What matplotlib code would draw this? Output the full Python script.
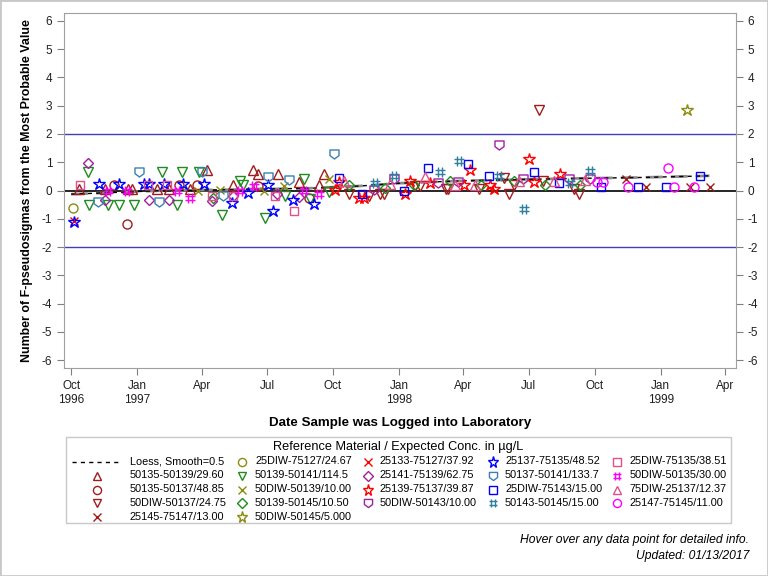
import numpy as np
import pandas as pd
import matplotlib
matplotlib.use("Agg")
import matplotlib.pyplot as plt
import matplotlib.dates as mdates
from matplotlib.path import Path
from matplotlib.lines import Line2D
from matplotlib.patches import Rectangle
from matplotlib.ticker import FuncFormatter, FixedLocator

plt.rcParams['font.family'] = ['Liberation Sans', 'DejaVu Sans']
plt.rcParams['axes.unicode_minus'] = False

# ---- data ----
loess_dates = ["1996-10-01", "1996-11-30", "1997-02-08", "1997-05-11", "1997-08-30", "1997-11-08",
               "1998-01-03", "1998-03-28", "1998-06-20", "1998-09-11", "1998-12-03", "1999-03-10"]
loess_vals = [-0.13, -0.07, 0.0, 0.03, 0.08, 0.16, 0.26, 0.34, 0.39, 0.43, 0.46, 0.52]

s01_dates = ["1996-10-12", "1996-11-17", "1996-12-19", "1996-12-25", "1997-01-28", "1997-02-14", "1997-03-15",
             "1997-04-09", "1997-05-15", "1997-06-11", "1997-06-19", "1997-07-17", "1997-08-14", "1997-09-11",
             "1997-09-18"]
s01_vals = [0.06, 0.07, 0.06, 0.06, 0.06, 0.06, 0.06, 0.74, 0.21, 0.74, 0.59, 0.60, 0.31, 0.21, 0.60]

s02_dates = ["1996-11-30", "1996-12-18", "1997-02-28", "1997-03-26", "1997-06-19", "1997-08-28"]
s02_vals = [0.19, -1.17, 0.18, 0.18, 0.15, -0.26]

s03_dates = ["1997-10-23", "1997-11-20", "1997-12-06", "1997-12-11", "1998-01-23", "1998-01-30", "1998-03-07",
             "1998-03-11", "1998-04-22", "1998-05-28", "1998-06-04", "1998-06-10", "1998-07-16", "1998-07-21",
             "1998-09-02", "1998-09-09"]
s03_vals = [-0.14, -0.20, -0.14, -0.14, 0.15, 0.15, 0.04, 0.04, 0.04, 0.45, -0.12, 0.18, 2.84, 0.33, 0.04, -0.12]

s04_dates = ["1998-11-13", "1998-12-11", "1999-02-11", "1999-03-11"]
s04_vals = [0.41, 0.13, 0.13, 0.13]

s05_dates = ["1996-10-03"]
s05_vals = [-0.61]

s06_dates = ["1996-10-25", "1996-10-26", "1996-11-22", "1996-12-06", "1996-12-28", "1997-02-04", "1997-02-26",
             "1997-03-05", "1997-03-28", "1997-04-29", "1997-05-24", "1997-05-29", "1997-06-28", "1997-07-26",
             "1997-08-21", "1997-08-30", "1997-09-25"]
s06_vals = [0.65, -0.50, -0.53, -0.53, -0.53, 0.65, -0.53, 0.65, 0.65, -0.88, 0.33, 0.18, -0.99, -0.18,
            0.41, -0.29, -0.05]

s07_dates = ["1997-03-27", "1997-04-27", "1997-06-27", "1997-07-25", "1997-09-25"]
s07_vals = [0.0, 0.01, -0.02, 0.15, 0.41]

s08_dates = ["1997-04-17", "1997-10-24", "1997-12-12", "1998-01-22", "1998-03-13", "1998-04-25", "1998-06-11",
             "1998-07-23", "1998-09-11"]
s08_vals = [-0.28, 0.21, 0.09, 0.19, 0.35, 0.21, 0.35, 0.19, 0.21]

s09_dates = ["1999-02-07"]
s09_vals = [2.84]

s10_dates = ["1996-10-05"]
s10_vals = [-1.08]

s11_dates = ["1996-10-25", "1996-11-17", "1997-01-17", "1997-02-14", "1997-04-16", "1997-05-14", "1997-07-15",
             "1997-08-14"]
s11_vals = [0.98, -0.35, -0.35, -0.35, -0.38, -0.18, -0.14, -0.24]

s12_dates = ["1997-10-04", "1997-10-10", "1997-11-06", "1997-11-13", "1998-01-09", "1998-01-16", "1998-02-13",
             "1998-04-02", "1998-04-10", "1998-05-08", "1998-05-14", "1998-07-01", "1998-07-09", "1998-08-14"]
s12_vals = [0.03, 0.29, -0.26, -0.26, -0.12, 0.33, 0.27, 0.18, 0.71, 0.21, 0.04, 1.10, 0.31, 0.57]

s13_dates = ["1997-11-27", "1997-12-25", "1998-02-25", "1998-03-25", "1998-05-20", "1998-06-23", "1998-08-26",
             "1998-09-24"]
s13_vals = [0.01, 0.41, 0.27, 0.29, 1.60, 0.42, 0.42, 0.39]

s14_dates = ["1996-10-05", "1996-11-09", "1996-12-06", "1997-01-10", "1997-01-17", "1997-02-08", "1997-03-06",
             "1997-04-04", "1997-05-13", "1997-06-04", "1997-07-03", "1997-07-09", "1997-08-07", "1997-09-05"]
s14_vals = [-1.12, 0.24, 0.24, 0.24, 0.24, 0.24, 0.24, 0.24, -0.44, -0.08, 0.21, -0.71, -0.32, -0.47]

s15_dates = ["1996-11-08", "1997-01-04", "1997-02-01", "1997-04-02", "1997-05-01", "1997-07-02", "1997-08-01",
             "1997-10-02"]
s15_vals = [-0.40, 0.66, -0.40, 0.65, -0.18, 0.48, 0.36, 1.30]

s16_dates = ["1997-10-09", "1997-11-11", "1998-01-08", "1998-02-11", "1998-04-08", "1998-05-06", "1998-07-08",
             "1998-08-12", "1998-10-10", "1998-12-01", "1999-01-08", "1999-02-25"]
s16_vals = [0.45, -0.12, 0.0, 0.80, 0.94, 0.53, 0.66, 0.27, 0.13, 0.13, 0.13, 0.53]

s17_dates = ["1997-11-28", "1997-12-25", "1998-02-27", "1998-03-26", "1998-05-21", "1998-06-25", "1998-08-27",
             "1998-09-24"]
s17_vals = [0.27, 0.53, 0.66, 1.04, 0.51, -0.67, 0.27, 0.68]

s18_dates = ["1996-10-13", "1997-01-16", "1997-02-11", "1997-04-16", "1997-05-14", "1997-07-12", "1997-08-08"]
s18_vals = [0.21, 0.21, 0.21, -0.18, -0.20, -0.18, -0.71]

s19_dates = ["1996-11-22", "1996-12-18", "1997-02-25", "1997-03-15", "1997-05-24", "1997-06-13", "1997-08-21",
             "1997-09-12"]
s19_vals = [-0.01, -0.01, -0.01, -0.26, 0.0, 0.15, 0.0, -0.12]

s20_dates = ["1997-10-17", "1997-12-19", "1998-02-06", "1998-03-20", "1998-04-17", "1998-06-17", "1998-08-05",
             "1998-09-18"]
s20_vals = [0.35, 0.24, 0.48, 0.21, 0.21, 0.35, 0.35, 0.36]

s21_dates = ["1998-10-04", "1998-10-12", "1998-11-16", "1999-01-11", "1999-01-19", "1999-02-16"]
s21_vals = [0.29, 0.29, 0.13, 0.80, 0.13, 0.13]

labels = ["50135-50139/29.60", "50135-50137/48.85", "50DIW-50137/24.75", "25145-75147/13.00",
          "25DIW-75127/24.67", "50139-50141/114.5", "50DIW-50139/10.00", "50139-50145/10.50",
          "50DIW-50145/5.000", "25133-75127/37.92", "25141-75139/62.75", "25139-75137/39.87",
          "50DIW-50143/10.00", "25137-75135/48.52", "50137-50141/133.7", "25DIW-75143/15.00",
          "50143-50145/15.00", "25DIW-75135/38.51", "50DIW-50135/30.00", "75DIW-25137/12.37",
          "25147-75145/11.00"]

# ---- marker shapes ----
homeplate = Path([(-1, 1), (1, 1), (1, -0.25), (0, -1), (-1, -0.25), (-1, 1)],
                 [Path.MOVETO, Path.LINETO, Path.LINETO, Path.LINETO, Path.LINETO, Path.CLOSEPOLY])
hashmark = Path([(-0.4, -1), (-0.4, 1), (0.4, -1), (0.4, 1), (-1, -0.4), (1, -0.4), (-1, 0.4), (1, 0.4)],
                [Path.MOVETO, Path.LINETO] * 4)

DKRED = '#A01C1C'
OLIVE = '#8C8C10'
GREEN = '#1E8C1E'
RED = '#FF0000'
PURPLE = '#A020A0'
BLUE = '#0000FF'
STEEL = '#3A80B0'
TEAL = '#2F7FA0'
PINK = '#E0508A'
MAGENTA = '#FF00FF'

styles = [('^', DKRED, 6.5), ('o', DKRED, 6.5), ('v', DKRED, 6.5), ('x', DKRED, 6),
          ('o', OLIVE, 6.5), ('v', GREEN, 6.5), ('x', OLIVE, 6), ('D', GREEN, 5.5),
          ('*', OLIVE, 9), ('x', RED, 6), ('D', PURPLE, 5.5), ('*', RED, 9),
          (homeplate, PURPLE, 6.5), ('*', BLUE, 9), (homeplate, STEEL, 6.5), ('s', BLUE, 6),
          (hashmark, TEAL, 6.5), ('s', PINK, 6), (hashmark, MAGENTA, 6.5), ('^', PINK, 6.5),
          ('o', MAGENTA, 6.5)]

series_dates = [s01_dates, s02_dates, s03_dates, s04_dates, s05_dates, s06_dates, s07_dates, s08_dates,
                s09_dates, s10_dates, s11_dates, s12_dates, s13_dates, s14_dates, s15_dates, s16_dates,
                s17_dates, s18_dates, s19_dates, s20_dates, s21_dates]
series_vals = [s01_vals, s02_vals, s03_vals, s04_vals, s05_vals, s06_vals, s07_vals, s08_vals,
               s09_vals, s10_vals, s11_vals, s12_vals, s13_vals, s14_vals, s15_vals, s16_vals,
               s17_vals, s18_vals, s19_vals, s20_vals, s21_vals]

# ---- figure ----
W, H = 768, 576
fig = plt.figure(figsize=(7.68, 5.76), dpi=100)
ax = fig.add_axes([64 / W, 1 - 368 / H, 672 / W, 355 / H])

ax.axhline(2, color='#3F3FC0', lw=1)
ax.axhline(-2, color='#3F3FC0', lw=1)
ax.axhline(0, color='black', lw=1.2)

ld = pd.to_datetime(loess_dates)
ax.plot(ld, loess_vals, color='#8C8C8C', lw=2, dashes=(6, 3), zorder=2)
ax.plot(ld, loess_vals, color='black', lw=1, dashes=(3, 3), zorder=2)

for (mk, col, ms), d, v in zip(styles, series_dates, series_vals):
    ax.plot(pd.to_datetime(d), v, linestyle='none', marker=mk, markersize=ms,
            markerfacecolor='none', markeredgecolor=col, markeredgewidth=1, zorder=3)

ax.set_xlim(pd.Timestamp("1996-09-21"), pd.Timestamp("1999-04-16"))
ax.set_ylim(-6.28, 6.28)
ax.set_yticks(range(-6, 7))

tick_dates = pd.date_range("1996-10-01", "1999-04-01", freq="3MS")
ax.xaxis.set_major_locator(FixedLocator(mdates.date2num(tick_dates)))
first_tick = mdates.date2num(tick_dates[0])


def fmt_date(x, pos):
    d = mdates.num2date(x)
    lab = d.strftime('%b')
    if d.month == 1 or abs(x - first_tick) < 1:
        lab += '\n' + str(d.year)
    return lab


ax.xaxis.set_major_formatter(FuncFormatter(fmt_date))
ax.tick_params(axis='both', colors='#808080', labelcolor='#202020', length=5, labelsize=8.5)
ax.tick_params(axis='y', right=True, labelright=True)
for sp in ax.spines.values():
    sp.set_color('#A0A0A0')

ax.set_ylabel("Number of F-pseudosigmas from the Most Probable Value", fontsize=8.9,
              fontweight='bold', labelpad=6)
ax.set_xlabel("Date Sample was Logged into Laboratory", fontsize=9.6, fontweight='bold', labelpad=8)

# ---- legend built by hand ----
fig.add_artist(Rectangle((66 / W, 1 - 523 / H), 665 / W, 86 / H, transform=fig.transFigure,
                         fill=False, edgecolor='#C8C8C8', lw=1))
fig.text(398 / W, 1 - 447 / H, "Reference Material / Expected Conc. in µg/L", ha='center', va='center',
         fontsize=9.2)

row_y = [461.5, 475.5, 489.5, 503, 517]
col_marker_x = [97, 241.5, 368, 492.5, 617]
col_text_x = [130, 255, 380, 505, 630]
col_sizes = [5, 5, 4, 4, 4]

entries = [None] + list(range(len(labels)))
k = 0
for c, n in enumerate(col_sizes):
    for r in range(n):
        idx = entries[k]
        k += 1
        yy = 1 - row_y[r] / H
        if idx is None:
            fig.add_artist(Line2D([72 / W, 122 / W], [yy, yy], transform=fig.transFigure,
                                  color='black', lw=1, dashes=(3, 3)))
            text = "Loess, Smooth=0.5"
        else:
            mk, col, ms = styles[idx]
            fig.add_artist(Line2D([col_marker_x[c] / W], [yy], transform=fig.transFigure,
                                  linestyle='none', marker=mk, markersize=ms * 0.9, markerfacecolor='none',
                                  markeredgecolor=col, markeredgewidth=1))
            text = labels[idx]
        fig.text(col_text_x[c] / W, yy, text, ha='left', va='center', fontsize=7.8)

fig.text(749 / W, 1 - 540 / H, "Hover over any data point for detailed info.", ha='right', va='center',
         fontsize=8.7, style='italic')
fig.text(749 / W, 1 - 556 / H, "Updated: 01/13/2017", ha='right', va='center', fontsize=8.7, style='italic')

fig.add_artist(Rectangle((0, 0), 1, 1, transform=fig.transFigure, fill=False, edgecolor='#C8C8C8', lw=2))

fig.savefig("out.png", dpi=100)
